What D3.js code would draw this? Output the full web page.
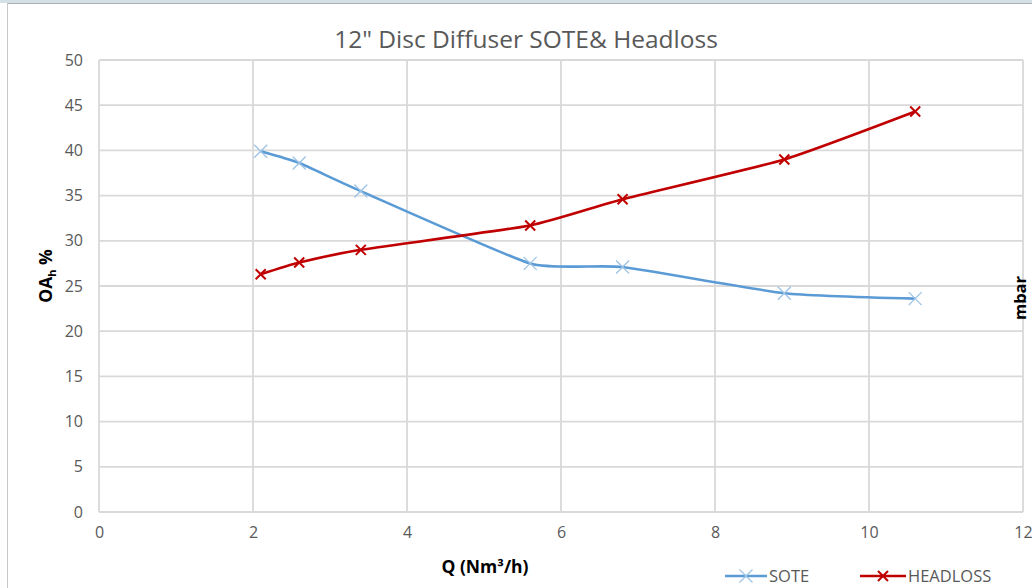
<!DOCTYPE html>
<html><head><meta charset="utf-8">
<script src="https://cdn.jsdelivr.net/npm/d3@7"></script>
<style>body{margin:0;background:#fff;}svg{display:block;}</style>
</head><body>
<script>
const xTicks = [0, 2, 4, 6, 8, 10, 12];
const yTicks = [0, 5, 10, 15, 20, 25, 30, 35, 40, 45, 50];
const flowQ = [2.1, 2.6, 3.4, 5.6, 6.8, 8.9, 10.6];
const soteValues = [39.9, 38.6, 35.5, 27.5, 27.1, 24.2, 23.6];
const headlossValues = [26.3, 27.6, 29.0, 31.7, 34.6, 39.0, 44.3];
const seriesNames = ["SOTE", "HEADLOSS"];
const seriesColors = ["#5b9bd5", "#c00000"];

const W = 1032, H = 588;
const svg = d3.select("body").append("svg").attr("width", W).attr("height", H);
const font = "'Open Sans', 'Liberation Sans', sans-serif";

// outer frame (screenshot)
svg.append("rect").attr("x", 0).attr("y", 0).attr("width", W).attr("height", 3).attr("fill", "#d5dfe6");
svg.append("line").attr("x1", 7).attr("x2", W).attr("y1", 3.5).attr("y2", 3.5).attr("stroke", "#a9b2b8").attr("stroke-width", 1);
svg.append("line").attr("x1", 7.5).attr("x2", 7.5).attr("y1", 3).attr("y2", H).attr("stroke", "#c8c8c8").attr("stroke-width", 1);

const x = d3.scaleLinear().domain([0, 12]).range([99, 1023]);
const y = d3.scaleLinear().domain([0, 50]).range([512, 60]);

// grid
const g = svg.append("g");
g.selectAll(".hg").data(yTicks).join("line")
  .attr("x1", x(0)).attr("x2", x(12)).attr("y1", d => y(d)).attr("y2", d => y(d))
  .attr("stroke", "#d9d9d9").attr("stroke-width", 1.8);
g.selectAll(".vg").data(xTicks).join("line")
  .attr("x1", d => x(d)).attr("x2", d => x(d)).attr("y1", y(0)).attr("y2", y(50))
  .attr("stroke", "#d9d9d9").attr("stroke-width", 1.8);

// axes labels via d3 axes
const yAxis = svg.append("g").attr("transform", `translate(${x(0)},0)`)
  .call(d3.axisLeft(y).tickValues(yTicks).tickSize(0).tickPadding(16));
const xAxis = svg.append("g").attr("transform", `translate(0,${y(0)})`)
  .call(d3.axisBottom(x).tickValues(xTicks).tickSize(0).tickPadding(15));
[yAxis, xAxis].forEach(a => {
  a.select(".domain").remove();
  a.selectAll("text").attr("fill", "#595959").style("font-family", font).style("font-size", "16px");
});

// title
svg.append("text").attr("x", 526).attr("y", 48).attr("text-anchor", "middle")
  .attr("fill", "#595959").style("font-family", font).style("font-size", "24.5px")
  .text("12\" Disc Diffuser SOTE& Headloss");

// y title
const yt = svg.append("text").attr("transform", "translate(52,276) rotate(-90)")
  .attr("text-anchor", "middle").attr("fill", "#000").style("font-family", font)
  .style("font-size", "17.5px").style("font-weight", "bold");
yt.append("tspan").text("OA");
yt.append("tspan").attr("dy", 4).style("font-size", "11px").text("h");
yt.append("tspan").attr("dy", -4).text(" %");

svg.append("text").attr("transform", "translate(1026,298) rotate(-90)")
  .attr("text-anchor", "middle").attr("fill", "#000").style("font-family", font)
  .style("font-size", "16.5px").style("font-weight", "bold").text("mbar");

svg.append("text").attr("x", 485).attr("y", 573).attr("text-anchor", "middle")
  .attr("fill", "#000").style("font-family", font).style("font-size", "17.5px")
  .style("font-weight", "bold").text("Q (Nm³/h)");

// series
const series = [soteValues, headlossValues];
const line = d3.line().x(d => x(d[0])).y(d => y(d[1])).curve(d3.curveCardinal.tension(0.5));
series.forEach((vals, i) => {
  const pts = flowQ.map((q, j) => [q, vals[j]]);
  svg.append("path").attr("d", line(pts)).attr("fill", "none")
    .attr("stroke", seriesColors[i]).attr("stroke-width", 2.6);
  const s = i === 0 ? 6.5 : 5;
  const mk = svg.append("g");
  pts.forEach(p => {
    const cx = x(p[0]), cy = y(p[1]);
    mk.append("path").attr("d", `M${cx - s},${cy - s}L${cx + s},${cy + s}M${cx - s},${cy + s}L${cx + s},${cy - s}`)
      .attr("stroke", i === 0 ? "#9dc3e6" : seriesColors[i]).attr("stroke-width", i === 0 ? 1.3 : 2);
  });
});

// legend
const legendX = [725, 860];
seriesNames.forEach((name, i) => {
  const lx = legendX[i], ly = 576;
  const len = i === 0 ? 42 : 46;
  svg.append("line").attr("x1", lx).attr("x2", lx + len).attr("y1", ly).attr("y2", ly)
    .attr("stroke", seriesColors[i]).attr("stroke-width", 2.6);
  const cx = lx + len / 2, s = i === 0 ? 6.5 : 5;
  svg.append("path").attr("d", `M${cx - s},${ly - s}L${cx + s},${ly + s}M${cx - s},${ly + s}L${cx + s},${ly - s}`)
    .attr("stroke", i === 0 ? "#9dc3e6" : seriesColors[i]).attr("stroke-width", i === 0 ? 1.3 : 2);
  svg.append("text").attr("x", lx + len + 2).attr("y", ly + 6).attr("fill", "#595959")
    .style("font-family", font).style("font-size", "16.5px").text(name);
});
</script>
</body></html>
